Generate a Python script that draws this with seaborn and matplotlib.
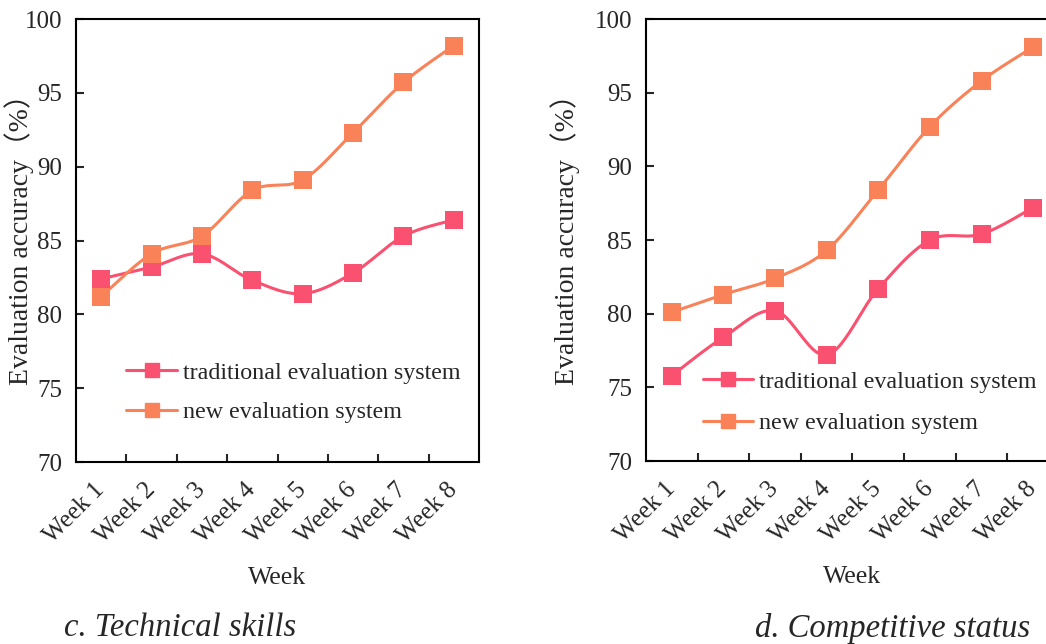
import numpy as np
import pandas as pd
import matplotlib
matplotlib.use("Agg")
import matplotlib.pyplot as plt
import seaborn as sns
from matplotlib.lines import Line2D
from matplotlib.ticker import FixedLocator

# ---------------- data ----------------
weeks = ["Week 1", "Week 2", "Week 3", "Week 4", "Week 5", "Week 6", "Week 7", "Week 8"]
tech_traditional = [82.4, 83.2, 84.1, 82.3, 81.4, 82.8, 85.3, 86.4]
tech_new = [81.2, 84.1, 85.3, 88.4, 89.1, 92.3, 95.7, 98.2]
comp_traditional = [75.8, 78.4, 80.2, 77.2, 81.7, 85.0, 85.4, 87.2]
comp_new = [80.1, 81.3, 82.4, 84.3, 88.4, 92.7, 95.8, 98.1]
series_names = ["traditional evaluation system", "new evaluation system"]
panel_titles = ["c. Technical skills", "d. Competitive status"]
y_ticks = [70, 75, 80, 85, 90, 95, 100]

colors = ["#FA5170", "#FA8259"]

sns.set_style("ticks")
plt.rcParams["font.family"] = ["Liberation Serif", "Noto Sans CJK SC"]
plt.rcParams["axes.linewidth"] = 1.5


def smooth_curve(x, y, n=24):
    """Catmull-Rom style smoothing of the drawn line (like Excel's smoothed line)."""
    x = np.asarray(x, float)
    y = np.asarray(y, float)
    px = np.concatenate([[x[0]], x, [x[-1]]])
    py = np.concatenate([[y[0]], y, [y[-1]]])
    xs, ys = [], []
    t = np.linspace(0, 1, n)
    for i in range(1, len(px) - 2):
        p0x, p1x, p2x, p3x = px[i - 1], px[i], px[i + 1], px[i + 2]
        p0y, p1y, p2y, p3y = py[i - 1], py[i], py[i + 1], py[i + 2]
        c1x, c1y = p1x + (p2x - p0x) / 6, p1y + (p2y - p0y) / 6
        c2x, c2y = p2x - (p3x - p1x) / 6, p2y - (p3y - p1y) / 6
        bx = (1 - t) ** 3 * p1x + 3 * (1 - t) ** 2 * t * c1x + 3 * (1 - t) * t ** 2 * c2x + t ** 3 * p2x
        by = (1 - t) ** 3 * p1y + 3 * (1 - t) ** 2 * t * c1y + 3 * (1 - t) * t ** 2 * c2y + t ** 3 * p2y
        xs.extend(bx)
        ys.extend(by)
    return np.array(xs), np.array(ys)


fig = plt.figure(figsize=(10.46, 6.44), dpi=100)
W, H = 1046, 644
ax1 = fig.add_axes([76 / W, 1 - 462 / H, 403 / W, 443 / H])
ax2 = fig.add_axes([646 / W, 1 - 461 / H, 413 / W, 442 / H])

panels = [
    (ax1, [tech_traditional, tech_new], panel_titles[0], (0.125, 0.157), 180, 0.72, -0.142),
    (ax2, [comp_traditional, comp_new], panel_titles[1], (0.138, 0.132), 893, 0.82, -0.196),
]

xpos = np.arange(len(weeks))
for ax, series, title, leg_anchor, title_x, lspace, ylab_x in panels:
    for vals, name, col in zip(series, series_names, colors):
        sx, sy = smooth_curve(xpos, vals)
        sns.lineplot(x=sx, y=sy, ax=ax, color=col, linewidth=2.2, sort=False,
                     estimator=None, legend=False)
        df = pd.DataFrame({"x": xpos, "y": vals})
        sns.scatterplot(data=df, x="x", y="y", ax=ax, color=col, marker="s",
                        s=170, linewidth=0, legend=False, zorder=3)
    ax.set_xlim(-0.5, len(weeks) - 0.5)
    ax.set_ylim(70, 100)
    ax.set_yticks(y_ticks)
    ax.set_yticklabels([str(v) for v in y_ticks], fontsize=18)
    ax.set_xticks(xpos)
    ax.set_xticklabels(weeks, fontsize=18, rotation=45, ha="right",
                       rotation_mode="anchor", va="center")
    ax.xaxis.set_minor_locator(FixedLocator(np.arange(0.5, len(weeks) - 0.5, 1)))
    ax.tick_params(axis="x", which="major", length=0, pad=18)
    ax.tick_params(axis="x", which="minor", direction="in", length=6, width=1.5)
    ax.tick_params(axis="y", which="major", direction="in", length=6, width=1.5, pad=10)
    for s in ax.spines.values():
        s.set_visible(True)
        s.set_linewidth(1.5)
        s.set_color("black")
    ax.set_xlabel("Week", fontsize=18.5, labelpad=14)
    ax.set_ylabel("Evaluation accuracy（%）", fontsize=20)
    ax.yaxis.label.set_va("center")
    ax.yaxis.set_label_coords(ylab_x, 0.517)
    handles = [Line2D([], [], color=c, linewidth=2.2, marker="s", markersize=10.5)
               for c in colors]
    ax.legend(handles, series_names, loc="center left", bbox_to_anchor=leg_anchor,
              frameon=False, fontsize=17.3, handlelength=2.1, handletextpad=0.25,
              labelspacing=lspace, borderpad=0, borderaxespad=0)
    fig.text(title_x / W, 1 - 628 / H, title, fontsize=23.5, style="italic",
             ha="center", va="center")

fig.savefig("out.png", dpi=100)
